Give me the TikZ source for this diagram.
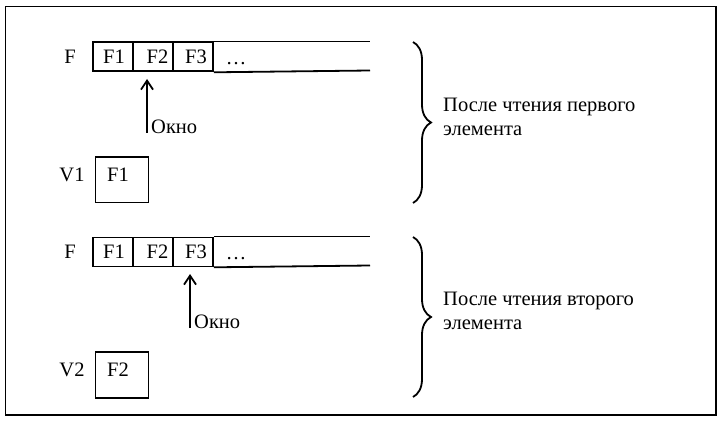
\documentclass[tikz,border=0pt]{standalone}
\usepackage{fontspec}
\setmainfont{Liberation Serif}
\usetikzlibrary{arrows.meta,decorations.pathreplacing}
\begin{document}
\begin{tikzpicture}[x=1pt,y=-1pt,
  line/.style={line width=1.8pt},
  cell/.style={draw,line width=1.8pt,minimum width=40pt,minimum height=29pt,inner sep=0pt,anchor=north west},
  lbl/.style={font=\fontsize{20.5}{20.5}\selectfont,inner sep=0pt},
  txt/.style={font=\fontsize{20.5}{24}\selectfont,inner sep=0pt,align=left,anchor=west},
  win/.style={line width=1.8pt,-{Straight Barb[length=9pt,width=12pt,line width=1.8pt]}},
  brc/.style={line width=1.8pt,decorate,decoration={brace,amplitude=18pt,aspect=0.5}}]
\useasboundingbox (0,0) rectangle (722,422);
\draw[line width=1.3pt] (5.5,6.5) rectangle (716,415);
% ---- first block
\node[cell] (a1) at (92,41.5) {};
\node[cell] (a2) at (132,41.5) {};
\node[cell] (a3) at (172,41.5) {};
\coordinate (ae1) at (370,41.5);
\coordinate (ae2) at (370,70.5);
\draw[line] (a3.north east) -- (ae1);
\draw[line] (a3.south east) -- (ae2);
\node[lbl] (aF) at (70,57) {F};
\node[lbl] (at1) at (114,57) {F1};
\node[lbl] (at2) at (157.5,57) {F2};
\node[lbl] (at3) at (196,57) {F3};
\node[lbl] (atd) at (236,63.5) {\dots};
\coordinate (aw0) at (147,133);
\coordinate (aw1) at (147,79);
\draw[win] (aw0) -- (aw1);
\node[lbl,anchor=west] (aok) at (151,127) {Окно};
\node[draw,line width=1.8pt,minimum width=53pt,minimum height=45.5pt,inner sep=0pt,anchor=north west] (av) at (94.5,156) {};
\node[lbl] (avl) at (72,175) {V1};
\node[lbl] (avt) at (118,175) {F1};
\coordinate (ab0) at (413,42);
\coordinate (ab1) at (413,203);
\draw[brc] (ab0) -- (ab1);
\node[txt] (atx) at (443,117) {После чтения первого\\элемента};
% ---- second block
\node[cell] (b1) at (92,236.5) {};
\node[cell] (b2) at (132,236.5) {};
\node[cell] (b3) at (172,236.5) {};
\coordinate (be1) at (370,236.5);
\coordinate (be2) at (370,265.5);
\draw[line] (b3.north east) -- (be1);
\draw[line] (b3.south east) -- (be2);
\node[lbl] (bF) at (70,252) {F};
\node[lbl] (bt1) at (114,252) {F1};
\node[lbl] (bt2) at (157.5,252) {F2};
\node[lbl] (bt3) at (196,252) {F3};
\node[lbl] (btd) at (236,258.5) {\dots};
\coordinate (bw0) at (190,328);
\coordinate (bw1) at (190,274);
\draw[win] (bw0) -- (bw1);
\node[lbl,anchor=west] (bok) at (194,322) {Окно};
\node[draw,line width=1.8pt,minimum width=53pt,minimum height=46pt,inner sep=0pt,anchor=north west] (bv) at (94.5,351) {};
\node[lbl] (bvl) at (72,370) {V2};
\node[lbl] (bvt) at (118,370) {F2};
\coordinate (bb0) at (413,237);
\coordinate (bb1) at (413,397);
\draw[brc] (bb0) -- (bb1);
\node[txt] (btx) at (443,311) {После чтения второго\\элемента};
\end{tikzpicture}
\end{document}
